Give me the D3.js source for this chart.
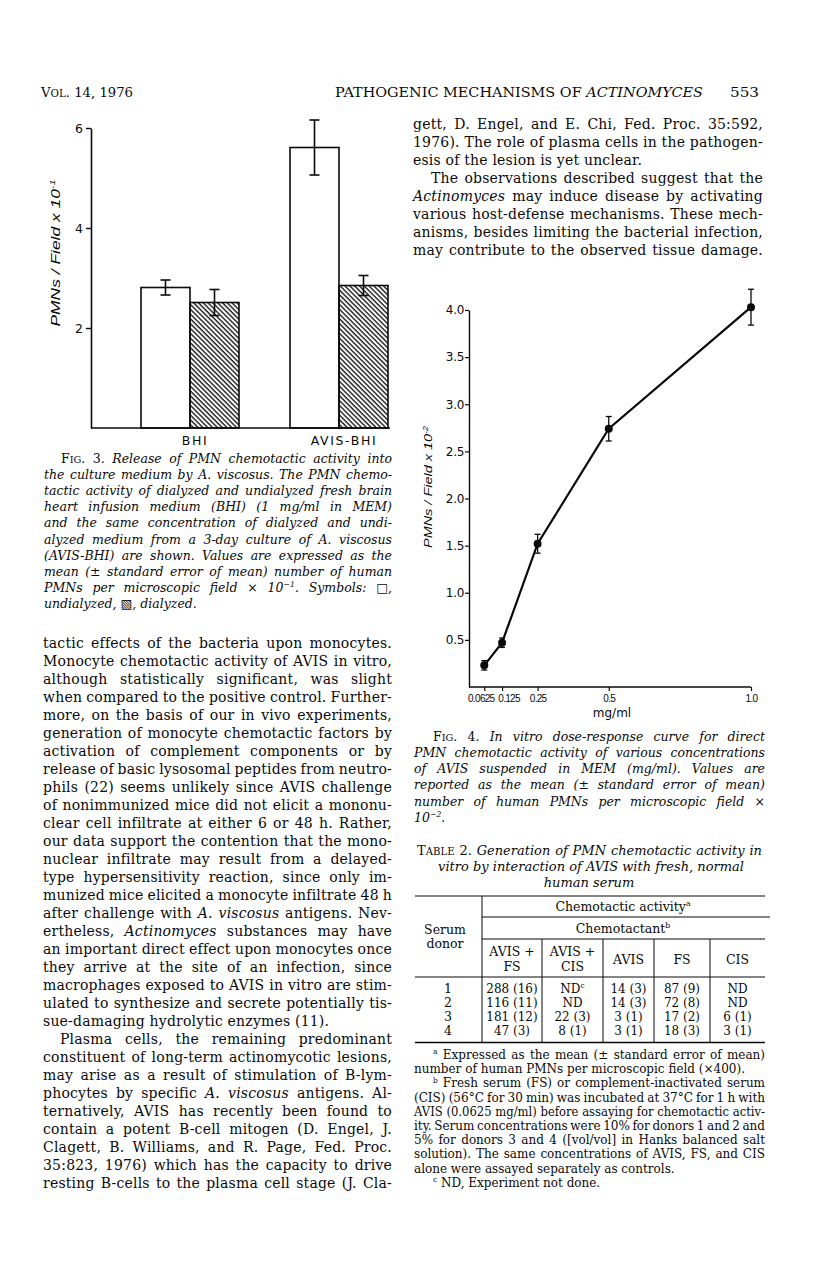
<!DOCTYPE html>
<html>
<head>
<meta charset="utf-8">
<script src="https://cdn.jsdelivr.net/npm/d3@7"></script>
<style>
  body { margin: 0; background: #fff; }
  svg { display: block; }
</style>
</head>
<body>
<script>
// ---- Fig. 3 data (PMNs / field x 10^-1) ----
const fig3Groups = ["BHI", "AVIS-BHI"];
const fig3Treatments = ["undialyzed", "dialyzed"];
const undialyzedMean = [2.81, 5.61];
const undialyzedSE = [0.15, 0.55];
const dialyzedMean = [2.51, 2.85];
const dialyzedSE = [0.26, 0.2];
const fig3YTicks = [2, 4, 6];

// ---- Fig. 4 data (PMNs / field x 10^-2) ----
const fig4Dose = [0.0625, 0.125, 0.25, 0.5, 1.0];
const fig4Mean = [0.23, 0.47, 1.52, 2.74, 4.03];
const fig4SE = [0.05, 0.05, 0.1, 0.13, 0.19];
const fig4YTicks = [0.5, 1.0, 1.5, 2.0, 2.5, 3.0, 3.5, 4.0];
const fig4XTickLabels = ["0.0625", "0.125", "0.25", "0.5", "1.0"];

// ---- Table 2 ----
const tableHeads = [["AVIS +", "FS"], ["AVIS +", "CIS"], ["AVIS"], ["FS"], ["CIS"]];
const tableDonors = ["1", "2", "3", "4"];
const colAvisFS = ["288 (16)", "116 (11)", "181 (12)", "47 (3)"];
const colAvisCIS = ["ND^c^", "ND", "22 (3)", "8 (1)"];
const colAvis = ["14 (3)", "14 (3)", "3 (1)", "3 (1)"];
const colFS = ["87 (9)", "72 (8)", "17 (2)", "18 (3)"];
const colCIS = ["ND", "ND", "6 (1)", "3 (1)"];

const SERIF = "'DejaVu Serif', 'Liberation Serif', serif";
const SANS = "'DejaVu Sans', sans-serif";
const HELV = "'Liberation Sans', Arial, sans-serif";
const INK = "#0a0a0a";

const svg = d3.select("body").append("svg")
    .attr("width", 816)
    .attr("height", 1269);
svg.append("rect").attr("width", 816).attr("height", 1269).attr("fill", "#fff");

// text with inline markup: * toggles italic, ^..^ superscript, ~..~ small caps
function rich(g, str, x, y, o) {
    o = Object.assign({ size: 13, italic: false, family: SERIF, anchor: "start" }, o);
    const t = g.append("text")
        .attr("x", x)
        .attr("y", y)
        .attr("text-anchor", o.anchor)
        .attr("fill", INK)
        .style("font-family", o.family)
        .style("font-size", o.size + "px")
        .style("font-style", o.italic ? "italic" : "normal");
    if (o.spacing) t.style("letter-spacing", o.spacing + "px");
    let ital = o.italic, shift = 0;
    str.split(/(\*|\^[^^]*\^|~[^~]*~)/).filter(s => s.length).forEach(p => {
        if (p === "*") { ital = !ital; return; }
        const ts = t.append("tspan").style("font-style", ital ? "italic" : "normal");
        if (shift) { ts.attr("dy", shift); shift = 0; }
        if (p[0] === "^") {
            const d = o.size * 0.38;
            ts.attr("dy", -d).style("font-size", (o.size * 0.62) + "px").text(p.slice(1, -1));
            shift = d;
        } else if (p[0] === "~") {
            ts.style("font-size", (o.size * 0.78) + "px").text(p.slice(1, -1));
        } else {
            ts.text(p);
        }
    });
    if (o.fit) {
        t.attr("textLength", o.fit).attr("lengthAdjust", "spacingAndGlyphs");
    } else if (o.width) {
        const w = t.node().getComputedTextLength();
        const n = (t.text().match(/ /g) || []).length;
        const extra = o.width - w;
        if (n && extra / n > -1.3) t.style("word-spacing", (extra / n) + "px");
        else t.attr("textLength", o.width).attr("lengthAdjust", "spacingAndGlyphs");
    }
    return t;
}

// justified block: ">" prefix = indent, "¶" suffix = last line (not justified)
function para(lines, x0, x1, y0, lh, o, indent) {
    lines.forEach((line, i) => {
        let s = line, x = x0;
        const last = s.endsWith("¶");
        if (last) s = s.slice(0, -1);
        if (s.startsWith(">")) { s = s.slice(1); x = x0 + indent; }
        const opts = Object.assign({}, o);
        if (!last) opts.width = x1 - x;
        rich(svg, s, x, y0 + i * lh, opts);
    });
}

// ---- running head ----
rich(svg, "V~OL~. 14, 1976", 41, 97, { size: 13, fit: 92 });
rich(svg, "PATHOGENIC MECHANISMS OF *ACTINOMYCES*", 335, 97, { size: 13, fit: 368 });
rich(svg, "553", 730, 97, { size: 13.5, fit: 29 });

// ================= Fig. 3 =================
const y3 = d3.scaleLinear().domain([0, 6]).range([428, 128]);
const x3 = d3.scaleBand().domain(fig3Groups).range([141, 388]).paddingInner(51 / 149);
const xs3 = d3.scaleBand().domain(fig3Treatments).range([0, x3.bandwidth()]);

const defs = svg.append("defs");
defs.append("pattern")
    .attr("id", "hatch")
    .attr("patternUnits", "userSpaceOnUse")
    .attr("width", 3.4)
    .attr("height", 3.4)
    .attr("patternTransform", "rotate(-45)")
    .append("line")
    .attr("x1", 1).attr("y1", 0).attr("x2", 1).attr("y2", 3.4)
    .attr("stroke", INK)
    .attr("stroke-width", 1.3);

const fig3 = svg.append("g");
const fig3Bars = fig3Groups.flatMap((g, i) => [
    { g, t: "undialyzed", m: undialyzedMean[i], se: undialyzedSE[i] },
    { g, t: "dialyzed", m: dialyzedMean[i], se: dialyzedSE[i] }
]);

fig3.selectAll("rect.bar")
    .data(fig3Bars)
    .join("rect")
    .attr("class", "bar")
    .attr("x", d => x3(d.g) + xs3(d.t))
    .attr("y", d => y3(d.m))
    .attr("width", xs3.bandwidth())
    .attr("height", d => y3(0) - y3(d.m))
    .attr("fill", d => d.t === "dialyzed" ? "url(#hatch)" : "#fff")
    .attr("stroke", INK)
    .attr("stroke-width", 1.6);

fig3Bars.forEach(d => {
    const cx = x3(d.g) + xs3(d.t) + xs3.bandwidth() / 2;
    const e = fig3.append("g").attr("stroke", INK).attr("stroke-width", 1.6);
    e.append("line").attr("x1", cx).attr("x2", cx).attr("y1", y3(d.m - d.se)).attr("y2", y3(d.m + d.se));
    [d.m - d.se, d.m + d.se].forEach(v => {
        e.append("line").attr("x1", cx - 5).attr("x2", cx + 5).attr("y1", y3(v)).attr("y2", y3(v));
    });
});

const ax3 = fig3.append("g")
    .attr("transform", "translate(91,0)")
    .call(d3.axisLeft(y3).tickValues(fig3YTicks).tickFormat(d3.format("d")).tickSize(5).tickSizeOuter(0).tickPadding(3));
ax3.select(".domain").attr("stroke", INK).attr("stroke-width", 1.6);
ax3.selectAll(".tick line").attr("stroke", INK).attr("stroke-width", 1.4);
ax3.selectAll(".tick text").attr("fill", INK).style("font-family", SANS).style("font-size", "12.5px");

fig3.append("line")
    .attr("x1", 91).attr("x2", 390)
    .attr("y1", y3(0)).attr("y2", y3(0))
    .attr("stroke", INK).attr("stroke-width", 1.6);

fig3Groups.forEach(g => {
    rich(fig3, g, x3(g) + x3.bandwidth() / 2 + 5, 445, { family: SANS, size: 12.5, anchor: "middle", spacing: 1.6 });
});

const lab3 = fig3.append("g").attr("transform", "translate(60,253) rotate(-90)");
rich(lab3, "PMNs / Field x 10^-1^", 0, 0, { family: HELV, size: 12.5, italic: true, anchor: "middle", fit: 147 });

// Fig. 3 caption
para([
    ">*F~IG~. 3.* Release of PMN chemotactic activity into",
    "the culture medium by A. viscosus. The PMN chemo-",
    "tactic activity of dialyzed and undialyzed fresh brain",
    "heart infusion medium (BHI) (1 mg/ml in MEM)",
    "and the same concentration of dialyzed and undi-",
    "alyzed medium from a 3-day culture of A. viscosus",
    "(AVIS-BHI) are shown. Values are expressed as the",
    "mean (± standard error of mean) number of human",
    "PMNs per microscopic field × 10^−1^. Symbols: □,",
    "undialyzed, ▧, dialyzed.¶"
], 44, 392, 462.5, 16.2, { size: 12.5, italic: true }, 17);

// ================= left column text =================
const BODY = { size: 14, spacing: 0.2 };
para([
    "tactic effects of the bacteria upon monocytes.",
    "Monocyte chemotactic activity of AVIS in vitro,",
    "although statistically significant, was slight",
    "when compared to the positive control. Further-",
    "more, on the basis of our in vivo experiments,",
    "generation of monocyte chemotactic factors by",
    "activation of complement components or by",
    "release of basic lysosomal peptides from neutro-",
    "phils (22) seems unlikely since AVIS challenge",
    "of nonimmunized mice did not elicit a mononu-",
    "clear cell infiltrate at either 6 or 48 h. Rather,",
    "our data support the contention that the mono-",
    "nuclear infiltrate may result from a delayed-",
    "type hypersensitivity reaction, since only im-",
    "munized mice elicited a monocyte infiltrate 48 h",
    "after challenge with *A. viscosus* antigens. Nev-",
    "ertheless, *Actinomyces* substances may have",
    "an important direct effect upon monocytes once",
    "they arrive at the site of an infection, since",
    "macrophages exposed to AVIS in vitro are stim-",
    "ulated to synthesize and secrete potentially tis-",
    "sue-damaging hydrolytic enzymes (11).¶",
    ">Plasma cells, the remaining predominant",
    "constituent of long-term actinomycotic lesions,",
    "may arise as a result of stimulation of B-lym-",
    "phocytes by specific *A. viscosus* antigens. Al-",
    "ternatively, AVIS has recently been found to",
    "contain a potent B-cell mitogen (D. Engel, J.",
    "Clagett, B. Williams, and R. Page, Fed. Proc.",
    "35:823, 1976) which has the capacity to drive",
    "resting B-cells to the plasma cell stage (J. Cla-"
], 43, 392, 648, 18, BODY, 17);

// ================= right column text =================
para([
    "gett, D. Engel, and E. Chi, Fed. Proc. 35:592,",
    "1976). The role of plasma cells in the pathogen-",
    "esis of the lesion is yet unclear.¶",
    ">The observations described suggest that the",
    "*Actinomyces* may induce disease by activating",
    "various host-defense mechanisms. These mech-",
    "anisms, besides limiting the bacterial infection,",
    "may contribute to the observed tissue damage."
], 413, 763, 129, 18, BODY, 18);

// ================= Fig. 4 =================
const x4 = d3.scaleLinear().domain([0, 1]).range([466.5, 751]);
const y4 = d3.scaleLinear().domain([0, 4]).range([687, 310]);
const fig4 = svg.append("g");

const ax4y = fig4.append("g")
    .attr("transform", "translate(469,0)")
    .call(d3.axisLeft(y4).tickValues(fig4YTicks).tickFormat(d3.format(".1f")).tickSize(4).tickSizeOuter(0).tickPadding(1));
const ax4x = fig4.append("g")
    .attr("transform", `translate(0,${y4(0)})`)
    .call(d3.axisBottom(x4).tickValues(fig4Dose).tickFormat((d, i) => fig4XTickLabels[i]).tickSize(4).tickSizeOuter(0).tickPadding(4));
ax4x.select(".domain").attr("d", `M469,0H${x4(1)}`);
[ax4y, ax4x].forEach(a => {
    a.select(".domain").attr("stroke", INK).attr("stroke-width", 1.4);
    a.selectAll(".tick line").attr("stroke", INK).attr("stroke-width", 1.2);
    a.selectAll(".tick text").attr("fill", INK).style("font-family", SANS);
});
ax4y.selectAll(".tick text").style("font-size", "12px").style("letter-spacing", "-0.3px");
ax4x.selectAll(".tick text")
    .style("font-family", HELV)
    .style("font-size", "10px")
    .style("letter-spacing", "-0.7px")
    .attr("dx", (d, i) => i === 0 ? -3.5 : i === 1 ? 6.5 : 0);

fig4.append("path")
    .datum(fig4Dose.map((d, i) => [d, fig4Mean[i]]))
    .attr("fill", "none")
    .attr("stroke", INK)
    .attr("stroke-width", 2.2)
    .attr("d", d3.line().x(d => x4(d[0])).y(d => y4(d[1])));

fig4Dose.forEach((d, i) => {
    const cx = x4(d);
    const e = fig4.append("g").attr("stroke", INK).attr("stroke-width", 1.3);
    e.append("line").attr("x1", cx).attr("x2", cx).attr("y1", y4(fig4Mean[i] - fig4SE[i])).attr("y2", y4(fig4Mean[i] + fig4SE[i]));
    [fig4Mean[i] - fig4SE[i], fig4Mean[i] + fig4SE[i]].forEach(v => {
        e.append("line").attr("x1", cx - 3).attr("x2", cx + 3).attr("y1", y4(v)).attr("y2", y4(v));
    });
    fig4.append("circle").attr("cx", cx).attr("cy", y4(fig4Mean[i])).attr("r", 4).attr("fill", INK);
});

rich(fig4, "mg/ml", 612, 717, { family: SANS, size: 12, anchor: "middle" });
const lab4 = fig4.append("g").attr("transform", "translate(432,487) rotate(-90)");
rich(lab4, "PMNs / Field x 10^-2^", 0, 0, { family: HELV, size: 11.5, italic: true, anchor: "middle", fit: 122 });

// Fig. 4 caption
para([
    ">*F~IG~. 4.* In vitro dose-response curve for direct",
    "PMN chemotactic activity of various concentrations",
    "of AVIS suspended in MEM (mg/ml). Values are",
    "reported as the mean (± standard error of mean)",
    "number of human PMNs per microscopic field ×",
    "10^−2^.¶"
], 414, 765, 740.5, 16.3, { size: 12.5, italic: true }, 19);

// ================= Table 2 =================
rich(svg, "T~ABLE~ 2.* Generation of PMN chemotactic activity in", 417, 855, { size: 13, width: 345 });
rich(svg, "vitro by interaction of AVIS with fresh, normal", 591, 871, { size: 13, italic: true, anchor: "middle" });
rich(svg, "human serum", 589, 887, { size: 13, italic: true, anchor: "middle" });

const tEdges = [415, 482, 542, 603, 654, 710, 765];
const tCols = [colAvisFS, colAvisCIS, colAvis, colFS, colCIS];
const tbl = svg.append("g").attr("stroke", INK);
const hl = (x1, x2, y, w) => tbl.append("line").attr("x1", x1).attr("x2", x2).attr("y1", y).attr("y2", y).attr("stroke-width", w);
const vl = (x, y1, y2) => tbl.append("line").attr("x1", x).attr("x2", x).attr("y1", y1).attr("y2", y2).attr("stroke-width", 1);
hl(tEdges[0], tEdges[6], 896, 1.2);
hl(tEdges[1], tEdges[6] + 5, 917, 1);
hl(tEdges[1], tEdges[6], 939, 1);
hl(tEdges[0], tEdges[6], 977, 1);
hl(tEdges[0], tEdges[6], 1042.5, 1.6);
vl(tEdges[1], 896, 1042);
tEdges.slice(2, 6).forEach(x => vl(x, 939, 1042));

const TS = { size: 12.5 };
rich(svg, "Chemotactic activity^a^", 623, 911, Object.assign({ anchor: "middle" }, TS));
rich(svg, "Chemotactant^b^", 623, 932.5, Object.assign({ anchor: "middle" }, TS));
rich(svg, "Serum", 445, 934, Object.assign({ anchor: "middle" }, TS));
rich(svg, "donor", 445, 948, Object.assign({ anchor: "middle" }, TS));
tableHeads.forEach((h, c) => {
    const cx = (tEdges[c + 1] + tEdges[c + 2]) / 2;
    if (h.length === 2) {
        rich(svg, h[0], cx, 956, Object.assign({ anchor: "middle" }, TS));
        rich(svg, h[1], cx, 970.5, Object.assign({ anchor: "middle" }, TS));
    } else {
        rich(svg, h[0], cx, 963.5, Object.assign({ anchor: "middle" }, TS));
    }
});
tableDonors.forEach((dn, r) => {
    const y = 992.5 + r * 14.1;
    rich(svg, dn, 448, y, Object.assign({ anchor: "middle" }, TS));
    tCols.forEach((col, c) => {
        const cx = (tEdges[c + 1] + tEdges[c + 2]) / 2;
        rich(svg, col[r], cx, y, Object.assign({ anchor: "middle", size: 12 }));
    });
});

// table footnotes
para([
    ">^a^ Expressed as the mean (± standard error of mean)",
    "number of human PMNs per microscopic field (×400).¶",
    ">^b^ Fresh serum (FS) or complement-inactivated serum",
    "(CIS) (56°C for 30 min) was incubated at 37°C for 1 h with",
    "AVIS (0.0625 mg/ml) before assaying for chemotactic activ-",
    "ity. Serum concentrations were 10% for donors 1 and 2 and",
    "5% for donors 3 and 4 ([vol/vol] in Hanks balanced salt",
    "solution). The same concentrations of AVIS, FS, and CIS",
    "alone were assayed separately as controls.¶",
    ">^c^ ND, Experiment not done.¶"
], 414, 765, 1059, 14.2, { size: 12 }, 19);
</script>
</body>
</html>
